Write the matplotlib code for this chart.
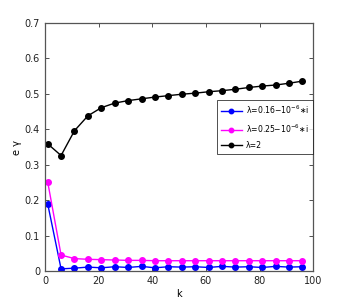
import matplotlib
matplotlib.use("Agg")
import matplotlib.pyplot as plt

k = [1, 6, 11, 16, 21, 26, 31, 36, 41, 46, 51, 56, 61, 66, 71, 76, 81, 86, 91, 96]
blue = [0.190, 0.006, 0.008, 0.011, 0.009, 0.012, 0.010, 0.013, 0.009, 0.012,
        0.011, 0.012, 0.010, 0.013, 0.011, 0.012, 0.010, 0.013, 0.011, 0.012]
magenta = [0.252, 0.045, 0.035, 0.033, 0.032, 0.031, 0.030, 0.030, 0.029, 0.029,
           0.029, 0.029, 0.029, 0.029, 0.029, 0.029, 0.029, 0.029, 0.029, 0.029]
black = [0.359, 0.326, 0.396, 0.438, 0.461, 0.474, 0.481, 0.486, 0.491, 0.495,
         0.499, 0.502, 0.506, 0.509, 0.513, 0.518, 0.522, 0.525, 0.530, 0.536]
labels = ['λ=0.16−10$^{-6}$∗i', 'λ=0.25−10$^{-6}$∗i', 'λ=2']

plt.rcParams['font.size'] = 7
fig = plt.figure(figsize=(3.46, 3.05), dpi=100)
ax = fig.add_axes([0.130, 0.1115, 0.775, 0.813])

ax.plot(k, blue, '-o', color='blue', ms=4, lw=1, label=labels[0])
ax.plot(k, magenta, '-o', color='magenta', ms=4, lw=1, label=labels[1])
ax.plot(k, black, '-o', color='black', ms=4, lw=1, label=labels[2])

ax.set_xlim(0, 100)
ax.set_ylim(0, 0.7)
ax.set_xticks(range(0, 101, 20))
ax.set_yticks([0, 0.1, 0.2, 0.3, 0.4, 0.5, 0.6, 0.7])
ax.set_yticklabels(['0', '0.1', '0.2', '0.3', '0.4', '0.5', '0.6', '0.7'])
ax.tick_params(direction='in', top=True, right=True, length=3, width=0.6,
               colors='#333333', labelcolor='#222222')
for s in ax.spines.values():
    s.set_linewidth(0.9)
    s.set_color('#555555')
ax.set_xlabel('k', labelpad=2)
ax.set_ylabel('e γ', labelpad=2)

leg = ax.legend(loc='upper right', bbox_to_anchor=(1.0, 0.69), borderaxespad=0,
                fontsize=5.6, frameon=True, fancybox=False, edgecolor='black',
                handlelength=2.8, handletextpad=0.5, markerscale=0.8,
                borderpad=0.5, labelspacing=0.8)
leg.get_frame().set_linewidth(0.6)

fig.savefig('out.png', dpi=100)
